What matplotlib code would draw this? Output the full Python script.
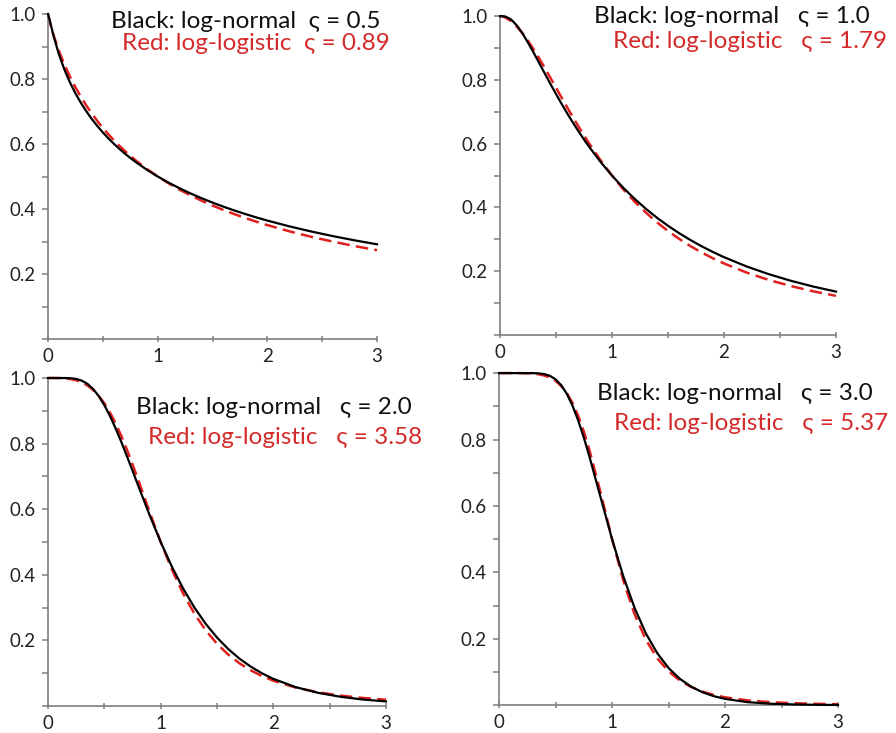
import matplotlib
matplotlib.use("Agg")
import matplotlib.pyplot as plt
from matplotlib.ticker import MultipleLocator

plt.rcParams['font.family'] = ['Lato', 'DejaVu Sans']

x = [0, 0.02, 0.05, 0.1, 0.15, 0.2, 0.25, 0.3, 0.35, 0.4, 0.45, 0.5, 0.55, 0.6, 0.65,
     0.7, 0.75, 0.8, 0.9, 1.0, 1.1, 1.2, 1.3, 1.4, 1.5, 1.6, 1.7, 1.8, 1.9, 2.0,
     2.2, 2.4, 2.6, 2.8, 3.0]

# panel 1: sigma 0.5 / 0.89
lognorm_05 = [1.0, 0.9748, 0.9330, 0.8751, 0.8286, 0.7895, 0.7559, 0.7264, 0.7002, 0.6765,
              0.6552, 0.6355, 0.6175, 0.6008, 0.5853, 0.5707, 0.5572, 0.5444, 0.5210, 0.5,
              0.4810, 0.4637, 0.4478, 0.4332, 0.4197, 0.4071, 0.3954, 0.3844, 0.3741, 0.3644,
              0.3467, 0.3308, 0.3164, 0.3033, 0.2914]
loglog_089 = [1.0, 0.9702, 0.9350, 0.8859, 0.8440, 0.8073, 0.7745, 0.7449, 0.7179, 0.6933,
              0.6706, 0.6495, 0.6300, 0.6117, 0.5947, 0.5787, 0.5637, 0.5495, 0.5234, 0.5,
              0.4788, 0.4595, 0.4419, 0.4257, 0.4107, 0.3969, 0.3841, 0.3721, 0.3609, 0.3505,
              0.3314, 0.3145, 0.2994, 0.2857, 0.2733]

# panel 2: sigma 1.0 / 1.79
lognorm_10 = [1.0, 1.0, 0.9986, 0.9893, 0.9711, 0.9462, 0.9171, 0.8857, 0.8531, 0.8203,
              0.7877, 0.7559, 0.7250, 0.6953, 0.6667, 0.6394, 0.6132, 0.5883, 0.5420, 0.5,
              0.4620, 0.4277, 0.3965, 0.3682, 0.3426, 0.3192, 0.2979, 0.2783, 0.2605, 0.2441,
              0.2152, 0.1907, 0.1697, 0.1516, 0.1360]
loglog_179 = [1.0, 0.9991, 0.9953, 0.9840, 0.9676, 0.9469, 0.9228, 0.8961, 0.8675, 0.8376,
              0.8068, 0.7757, 0.7446, 0.7139, 0.6838, 0.6544, 0.6260, 0.5985, 0.5470, 0.5,
              0.4574, 0.4191, 0.3847, 0.3538, 0.3261, 0.3013, 0.2789, 0.2588, 0.2407, 0.2243,
              0.1960, 0.1726, 0.1531, 0.1367, 0.1228]

# panel 3: sigma 2.0 / 3.58
lognorm_20 = [1.0, 1.0, 1.0, 1.0, 0.9999, 0.9994, 0.9972, 0.9920, 0.9821, 0.9666,
              0.9449, 0.9172, 0.8841, 0.8465, 0.8056, 0.7621, 0.7175, 0.6723, 0.5834, 0.5,
              0.4244, 0.3577, 0.2999, 0.2505, 0.2087, 0.1736, 0.1443, 0.1199, 0.0996, 0.0828,
              0.0574, 0.0400, 0.0280, 0.0197, 0.0140]
loglog_358 = [1.0, 1.0, 1.0, 0.9997, 0.9989, 0.9969, 0.9931, 0.9867, 0.9772, 0.9637,
              0.9458, 0.9228, 0.8948, 0.8616, 0.8238, 0.7819, 0.7369, 0.6897, 0.5932, 0.5,
              0.4155, 0.3424, 0.2810, 0.2306, 0.1897, 0.1567, 0.1302, 0.1087, 0.0913, 0.0772,
              0.0561, 0.0417, 0.0317, 0.0245, 0.0192]

# panel 4: sigma 3.0 / 5.37
lognorm_30 = [1.0, 1.0, 1.0, 1.0, 1.0, 1.0, 1.0, 0.9998, 0.9992, 0.9970,
              0.9917, 0.9812, 0.9635, 0.9373, 0.9019, 0.8577, 0.8060, 0.7484, 0.6240, 0.5,
              0.3875, 0.2922, 0.2156, 0.1564, 0.1119, 0.0793, 0.0557, 0.0389, 0.0271, 0.0188,
              0.0090, 0.0043, 0.0021, 0.0010, 0.0005]
loglog_537 = [1.0, 1.0, 1.0, 1.0, 1.0, 0.9998, 0.9994, 0.9984, 0.9964, 0.9928,
              0.9865, 0.9764, 0.9612, 0.9395, 0.9100, 0.8716, 0.8242, 0.7682, 0.6378, 0.5,
              0.3748, 0.2731, 0.1964, 0.1410, 0.1018, 0.0742, 0.0547, 0.0408, 0.0309, 0.0236,
              0.0143, 0.0090, 0.0059, 0.0040, 0.0027]

black_labels = ["Black: log-normal  ς = 0.5", "Black: log-normal   ς = 1.0",
                "Black: log-normal   ς = 2.0", "Black: log-normal   ς = 3.0"]
red_labels = ["Red: log-logistic  ς = 0.89", "Red: log-logistic   ς = 1.79",
              "Red: log-logistic   ς = 3.58", "Red: log-logistic   ς = 5.37"]
black_series = [lognorm_05, lognorm_10, lognorm_20, lognorm_30]
red_series = [loglog_089, loglog_179, loglog_358, loglog_537]

RED = '#e0201e'
TXT_RED = '#d42a2a'
GRAY = '#7f7f7f'

fig = plt.figure(figsize=(8.96, 7.33), dpi=100)

# axes boxes (left, bottom, width, height) in figure fraction
boxes = [
    (0.0536, 0.5375, 0.3672, 0.4434),
    (0.5580, 0.5430, 0.3750, 0.4350),
    (0.0536, 0.0368, 0.3772, 0.4475),
    (0.5570, 0.0380, 0.3783, 0.4530),
]
# text anchors (right end black, right end red, baseline black, baseline red) in axes fraction
text_pos = [
    (1.012, 1.040, 0.956, 0.888),
    (1.101, 1.152, 0.977, 0.900),
    (1.077, 1.106, 0.889, 0.799),
    (1.103, 1.147, 0.918, 0.829),
]

for i in range(4):
    ax = fig.add_axes(boxes[i])
    ax.plot(x, black_series[i], color='black', lw=1.6, clip_on=False, zorder=3)
    ax.plot(x, red_series[i], color=RED, lw=1.8, ls=(0, (5, 2.5)), clip_on=False, zorder=2)
    ax.set_xlim(0, 3)
    ax.set_ylim(0, 1)
    for s in ['top', 'right']:
        ax.spines[s].set_visible(False)
    for s in ['left', 'bottom']:
        ax.spines[s].set_color(GRAY)
        ax.spines[s].set_linewidth(1.2)
    ax.xaxis.set_major_locator(MultipleLocator(1))
    ax.xaxis.set_minor_locator(MultipleLocator(0.5))
    ax.yaxis.set_minor_locator(MultipleLocator(0.1))
    ax.set_yticks([0.2, 0.4, 0.6, 0.8, 1.0])
    ax.set_yticklabels(['0.2', '0.4', '0.6', '0.8', '1.0'])
    ax.tick_params(axis='x', which='both', direction='inout', color=GRAY, length=5, width=1.1,
                   labelsize=13.5, pad=4, labelcolor='#222222')
    ax.tick_params(axis='y', which='both', direction='out', color=GRAY, length=4, width=1.1,
                   labelsize=13.5, pad=5, labelcolor='#222222')
    xr1, xr2, yb, yr = text_pos[i]
    ax.text(xr1, yb, black_labels[i], transform=ax.transAxes, ha='right', va='baseline',
            fontsize=17.5, color='#111111')
    ax.text(xr2, yr, red_labels[i], transform=ax.transAxes, ha='right', va='baseline',
            fontsize=17.5, color=TXT_RED)

fig.savefig('out.png', dpi=100)
